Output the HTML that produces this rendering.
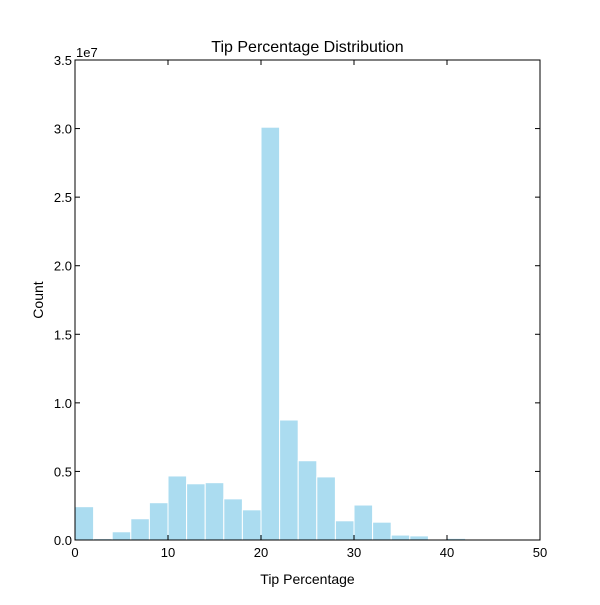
<!DOCTYPE html>
<html><head><meta charset="utf-8"><style>
body{margin:0;background:#fff;}
text{font-family:"Liberation Sans","DejaVu Sans",sans-serif;fill:#000;}
</style></head><body>
<svg id="chart" width="600" height="600" xmlns="http://www.w3.org/2000/svg">
<rect width="600" height="600" fill="#fff"/>
<g id="bars"></g>
<g id="axes"></g>
<text x="307.5" y="52" text-anchor="middle" font-size="16">Tip Percentage Distribution</text>
<text x="307.5" y="584" text-anchor="middle" font-size="14">Tip Percentage</text>
<text x="43" y="300" text-anchor="middle" font-size="14" transform="rotate(-90 43 300)">Count</text>
<text x="76" y="57" font-size="13">1e7</text>
</svg>
<script>
const binStarts = [0,2,4,6,8,10,12,14,16,18,20,22,24,26,28,30,32,34,36,38,40];
const binWidth = 2;
const counts = [0.243e7,0.01e7,0.06e7,0.155e7,0.272e7,0.467e7,0.41e7,0.418e7,0.30e7,0.22e7,3.01e7,0.875e7,0.578e7,0.46e7,0.14e7,0.255e7,0.13e7,0.036e7,0.03e7,0,0.012e7];
const xTicks = [0,10,20,30,40,50];
const yTicks = [0,0.5e7,1.0e7,1.5e7,2.0e7,2.5e7,3.0e7,3.5e7];
const yTickLabels = ["0.0","0.5","1.0","1.5","2.0","2.5","3.0","3.5"];
const L=75,R=540,T=60,B=540;
const xs=v=>L+(v/50)*(R-L);
const ys=v=>B-(v/3.5e7)*(B-T);
const NS="http://www.w3.org/2000/svg";
const bars=document.getElementById('bars');
binStarts.forEach((s,i)=>{
  if(counts[i]<=0)return;
  const r=document.createElementNS(NS,'rect');
  r.setAttribute('x',xs(s));r.setAttribute('width',xs(s+binWidth)-xs(s));
  r.setAttribute('y',ys(counts[i]));r.setAttribute('height',B-ys(counts[i]));
  r.setAttribute('fill','#abdcf0');r.setAttribute('stroke','#fff');r.setAttribute('stroke-width','1');
  
  
  bars.appendChild(r);
});
const ax=document.getElementById('axes');
const f=document.createElementNS(NS,'rect');
f.setAttribute('x',L);f.setAttribute('y',T);f.setAttribute('width',R-L);f.setAttribute('height',B-T);
f.setAttribute('fill','none');f.setAttribute('stroke','#000');f.setAttribute('stroke-width','1');


ax.appendChild(f);
function line(x1,y1,x2,y2){const l=document.createElementNS(NS,'line');l.setAttribute('x1',x1);l.setAttribute('y1',y1);l.setAttribute('x2',x2);l.setAttribute('y2',y2);l.setAttribute('stroke','#000');


ax.appendChild(l);}
xTicks.forEach(v=>{
  const x=xs(v);line(x,B,x,B-5);line(x,T,x,T+5);
  const t=document.createElementNS(NS,'text');t.setAttribute('x',x);t.setAttribute('y',B+17);t.setAttribute('text-anchor','middle');t.setAttribute('font-size','13');t.textContent=v;
  
  
  ax.appendChild(t);
});
yTicks.forEach((v,i)=>{
  const y=ys(v);line(L,y,L+5,y);line(R,y,R-5,y);
  const t=document.createElementNS(NS,'text');t.setAttribute('x',L-3);t.setAttribute('y',y+5);t.setAttribute('text-anchor','end');t.setAttribute('font-size','13');t.textContent=yTickLabels[i];
  
  
  ax.appendChild(t);
});
</script>
</body></html>
